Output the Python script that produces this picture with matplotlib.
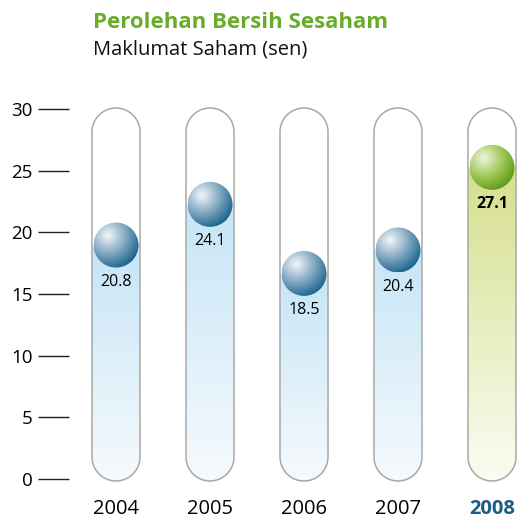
import numpy as np
import matplotlib
matplotlib.use("Agg")
import matplotlib.pyplot as plt
from matplotlib.path import Path
from matplotlib.patches import PathPatch, Ellipse
from matplotlib.colors import to_rgb

plt.rcParams['font.family'] = ['Open Sans', 'DejaVu Sans']

# ---- data ----
years = ["2004", "2005", "2006", "2007", "2008"]
values = [20.8, 24.1, 18.5, 20.4, 27.1]
yticks = [0, 5, 10, 15, 20, 25, 30]
title = "Perolehan Bersih Sesaham"
subtitle = "Maklumat Saham (sen)"
highlight_index = 4

# ---- layout (pixels) ----
W, H = 518, 519
fig = plt.figure(figsize=(W / 100, H / 100), dpi=100)
ax_left_px, ax_top_px, ax_bottom_px = 69, 80, 484
ax = fig.add_axes([ax_left_px / W, 1 - ax_bottom_px / H, 1 - ax_left_px / W,
                   (ax_bottom_px - ax_top_px) / H])

y0_px = 479.0          # pixel row of value 0
px_per_unit = 12.33    # pixels per unit on y
x0_px = 116.0          # pixel column of first category
px_per_cat = 94.0

ax.set_xlim((ax_left_px - x0_px) / px_per_cat, (W - x0_px) / px_per_cat)
ax.set_ylim((y0_px - ax_bottom_px) / px_per_unit, (y0_px - ax_top_px) / px_per_unit)
ax.set_facecolor("none")
for s in ax.spines.values():
    s.set_visible(False)

sx = 1 / px_per_cat   # data units per pixel in x
sy = 1 / px_per_unit  # data units per pixel in y

tube_r_px = 24.0
tube_top = 30.09
tube_bottom = -0.16
ball_r_px = 22.5


def tube_path(xc):
    rx, ry = tube_r_px * sx, tube_r_px * sy
    verts, codes = [], []
    t_top = np.linspace(0, np.pi, 40)
    verts.append((xc + rx, tube_bottom + ry)); codes.append(Path.MOVETO)
    verts.append((xc + rx, tube_top - ry)); codes.append(Path.LINETO)
    for t in t_top[1:]:
        verts.append((xc + rx * np.cos(t), tube_top - ry + ry * np.sin(t))); codes.append(Path.LINETO)
    verts.append((xc - rx, tube_bottom + ry)); codes.append(Path.LINETO)
    for t in t_top[1:]:
        verts.append((xc - rx * np.cos(t), tube_bottom + ry - ry * np.sin(t))); codes.append(Path.LINETO)
    verts.append(verts[0]); codes.append(Path.CLOSEPOLY)
    return Path(verts, codes)


def vertical_gradient(c_top, c_bot, n=256):
    t = np.linspace(0, 1, n)[:, None]
    a, b = np.array(to_rgb(c_bot)), np.array(to_rgb(c_top))
    img = a[None, :] * (1 - t[..., None]) + b[None, :] * t[..., None]
    return img


def sphere_image(c_light, c_mid, c_dark, n=200):
    yy, xx = np.mgrid[1:-1:n * 1j, -1:1:n * 1j]
    hx, hy = -0.38, 0.42
    d = np.sqrt((xx - hx) ** 2 + (yy - hy) ** 2) / 1.55
    d = np.clip(d, 0, 1)
    L, M, D = (np.array(to_rgb(c)) for c in (c_light, c_mid, c_dark))
    t1 = np.clip(d / 0.55, 0, 1)[..., None]
    t2 = np.clip((d - 0.55) / 0.45, 0, 1)[..., None]
    img = np.where(d[..., None] < 0.55, L * (1 - t1) + M * t1, M * (1 - t2) + D * t2)
    return img


for i, (yr, v) in enumerate(zip(years, values)):
    hl = i == highlight_index
    xc = i
    path = tube_path(xc)
    rx = tube_r_px * sx
    ball_ry = ball_r_px * sy
    ball_c = v - ball_ry
    if hl:
        grad = vertical_gradient("#d5df8c", "#fbfcf3")
    else:
        grad = vertical_gradient("#c6e5f6", "#f6fafd")
    clip = PathPatch(path, transform=ax.transData, facecolor="none", edgecolor="none")
    ax.add_patch(clip)
    im = ax.imshow(grad, extent=[xc - rx, xc + rx, tube_bottom, ball_c], origin="lower",
                   aspect="auto", interpolation="bilinear", zorder=1)
    im.set_clip_path(clip)
    ax.add_patch(PathPatch(path, facecolor="none", edgecolor="#a8a8a8", lw=1.1, zorder=3))
    bw, bh = 2 * ball_r_px * sx, 2 * ball_r_px * sy
    ell = Ellipse((xc, ball_c), bw, bh, facecolor="none", edgecolor="none", zorder=4)
    ax.add_patch(ell)
    if hl:
        simg = sphere_image("#eef5e0", "#9fc654", "#5c9819")
    else:
        simg = sphere_image("#f4f7fa", "#7aa3be", "#17628a")
    im2 = ax.imshow(simg, extent=[xc - bw / 2, xc + bw / 2, ball_c - bh / 2, ball_c + bh / 2],
                    aspect="auto", interpolation="bilinear", zorder=4)
    im2.set_clip_path(ell)
    ax.text(xc, ball_c - 37 * sy, f"{v:.1f}", ha="center", va="center", fontsize=11.5,
            color="black", fontweight="bold" if hl else "normal", zorder=5)

ax.set_xticks(range(len(years)))
ax.set_xticklabels(years, fontsize=14.5)
ax.tick_params(axis="x", length=0, pad=11)
for i, lab in enumerate(ax.get_xticklabels()):
    if i == highlight_index:
        lab.set_color("#1b5c85")
        lab.set_fontweight("bold")

ax.set_yticks(yticks)
ax.set_yticklabels([str(t) for t in yticks], fontsize=13.5)
ax.tick_params(axis="y", length=31 * 0.72, width=1.0, color="#222222", pad=4, direction="out")

fig.text(93 / W, 1 - 23 / H, title, color="#6aab2b", fontsize=16, fontweight="bold",
         ha="left", va="center")
fig.text(93 / W, 1 - 49 / H, subtitle, color="#111111", fontsize=14.5, ha="left", va="center")

fig.savefig("out.png", dpi=100)
